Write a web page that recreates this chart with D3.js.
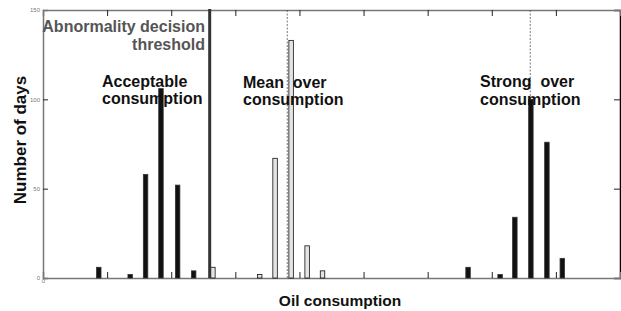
<!DOCTYPE html>
<html>
<head>
<meta charset="utf-8">
<script src="https://cdn.jsdelivr.net/npm/d3@7"></script>
<style>
  body { margin: 0; background: #fff; }
  text { font-family: "Liberation Sans", Arial, sans-serif; }
</style>
</head>
<body>
<div id="chartDiv"></div>
<script>
var width = 621,
    height = 311;

// bin positions (oil consumption units) and day counts
var acceptX = [0.87, 1.36, 1.60, 1.84, 2.10, 2.35];
var acceptY = [6, 2, 58, 106, 52, 4];
var meanX = [2.65, 3.38, 3.62, 3.87, 4.12, 4.36];
var meanY = [6, 2, 67, 133, 18, 4];
var strongX = [6.63, 7.13, 7.36, 7.61, 7.86, 8.10];
var strongY = [6, 2, 34, 100, 76, 11];

var thresholdX = 2.60;
var meanLineX = 3.81;
var strongLineX = 7.60;

var xTicks = [1, 2, 3, 4, 5, 6, 7, 8];
var yTicks = [0, 50, 100, 150];

var svg = d3.select("#chartDiv")
    .append("svg")
    .attr("width", width)
    .attr("height", height);

var x = d3.scaleLinear().domain([0, 9]).range([43, 620]);
var y = d3.scaleLinear().domain([0, 150]).range([278, 10]);
var barW = x(0.07) - x(0);

//axes, ticks pointing inside the box
var left = svg.append("g")
    .attr("transform", "translate(" + x(0) + ",0)")
    .call(d3.axisLeft(y).tickValues(yTicks).tickSize(-5).tickPadding(3));
left.selectAll("text").style("font-size", "6px").attr("fill", "#777");

svg.append("g")
    .attr("transform", "translate(" + x(9) + ",0)")
    .call(d3.axisRight(y).tickValues([50, 100]).tickSize(-6).tickFormat(""));

svg.append("g")
    .attr("transform", "translate(0," + y(150) + ")")
    .call(d3.axisTop(x).tickValues(xTicks).tickSize(-6).tickFormat(""));

var bottom = svg.append("g")
    .attr("transform", "translate(0," + y(0) + ")")
    .call(d3.axisBottom(x).tickValues([0].concat(xTicks)).tickSize(-6).tickPadding(1)
        .tickFormat(function (d) { return d === 0 ? "0" : ""; }));
bottom.selectAll("text").style("font-size", "6px").attr("fill", "#777");
bottom.selectAll(".tick").filter(function (d) { return d === 0; }).select("line").remove();

svg.selectAll(".domain").attr("stroke", "#777").attr("stroke-width", 1.5);
svg.selectAll(".tick line").attr("stroke", "#222");
svg.selectAll(".domain").filter(function (d, i) { return i === 1; }).attr("stroke", "#000");

// dashed mean lines
[meanLineX, strongLineX].forEach(function (v) {
    svg.append("line")
        .attr("x1", x(v)).attr("x2", x(v))
        .attr("y1", y(150)).attr("y2", y(0))
        .attr("stroke", "#555")
        .attr("stroke-width", 0.8)
        .attr("stroke-dasharray", "2,1.5");
});

function bars(xs, ys, fill, stroke) {
    svg.append("g")
        .selectAll("rect")
        .data(xs)
        .enter().append("rect")
        .attr("x", function (d) { return x(d) - barW / 2; })
        .attr("y", function (d, i) { return y(ys[i]); })
        .attr("width", barW)
        .attr("height", function (d, i) { return y(0) - y(ys[i]); })
        .attr("fill", fill)
        .attr("stroke", stroke)
        .attr("stroke-width", 0.8);
}
bars(acceptX, acceptY, "#111", "#333");
bars(meanX, meanY, "#e4e4e4", "#111");
bars(strongX, strongY, "#111", "#333");

// abnormality threshold
svg.append("line")
    .attr("x1", x(thresholdX)).attr("x2", x(thresholdX))
    .attr("y1", y(150) - 1).attr("y2", y(0))
    .attr("stroke", "#333")
    .attr("stroke-width", 3);

function label(lines, xp, y0, dy, anchor, color) {
    var t = svg.append("text")
        .attr("text-anchor", anchor)
        .attr("fill", color)
        .style("font-size", "16px")
        .style("font-weight", "bold")
        .style("white-space", "pre");
    lines.forEach(function (s, i) {
        t.append("tspan").attr("x", xp).attr("y", y0 + i * dy).text(s);
    });
}
label(["Abnormality decision", "threshold"], 205, 32, 18, "end", "#555");
label(["Acceptable", "consumption"], 102, 87, 17, "start", "#111");
label(["Mean  over", "consumption"], 243, 88, 17, "start", "#111");
label(["Strong  over", "consumption"], 480, 87, 18, "start", "#111");

svg.append("text")
    .attr("x", 340).attr("y", 306)
    .attr("text-anchor", "middle")
    .attr("fill", "#111")
    .style("font-size", "15.5px")
    .style("font-weight", "bold")
    .text("Oil consumption");

svg.append("text")
    .attr("transform", "translate(26,140) rotate(-90)")
    .attr("text-anchor", "middle")
    .attr("fill", "#111")
    .style("font-size", "17px")
    .style("font-weight", "bold")
    .text("Number of days");
</script>
</body>
</html>
